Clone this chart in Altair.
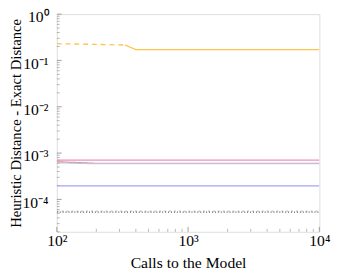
import altair as alt
import pandas as pd

# ---- data ----
yellow_dash_calls = [100, 200, 330]
yellow_dash_err = [0.23, 0.222, 0.215]
yellow_calls = [330, 400, 10000]
yellow_err = [0.215, 0.172, 0.172]
pink_calls = [100, 10000]
pink_err = [7.05e-4, 7.05e-4]
salmon_calls = [100, 200, 10000]
salmon_err = [6.5e-4, 6.0e-4, 6.0e-4]
lightblue_calls = [100, 200, 10000]
lightblue_err = [6.2e-4, 5.9e-4, 5.9e-4]
lavender_calls = [100, 10000]
lavender_err = [1.97e-4, 1.97e-4]
faint_calls = [100, 10000]
faint_err = [5.6e-5, 5.6e-5]
dotted_calls = [100, 10000]
dotted_err = [5.3e-5, 5.3e-5]

series_names = ["yellow_dash", "yellow", "pink", "salmon", "lightblue", "lavender", "faint", "dotted"]
series_colors = ["#ffc24a", "#ffc24a", "#ef8fc0", "#e0906e", "#b8c4e8", "#a5a5f0", "#c4c4c4", "#555555"]
series_dashes = [[5, 4], [1, 0], [1, 0], [1, 0], [1, 0], [1, 0], [2, 3], [1, 2]]

x_major = [100, 1000, 10000]
x_minor = [200, 300, 400, 500, 600, 700, 800, 900,
           2000, 3000, 4000, 5000, 6000, 7000, 8000, 9000]
y_major = [1e-4, 1e-3, 1e-2, 1e-1, 1]
y_minor = [m * 10.0 ** e for e in range(-5, 0) for m in range(2, 10) if m * 10.0 ** e >= 2e-5]

y_domain = [2e-5, 1]
x_domain = [100, 10000]

# ---- build table ----
rows = []
for name, cx, cy in [
    ("yellow_dash", yellow_dash_calls, yellow_dash_err),
    ("yellow", yellow_calls, yellow_err),
    ("pink", pink_calls, pink_err),
    ("salmon", salmon_calls, salmon_err),
    ("lightblue", lightblue_calls, lightblue_err),
    ("lavender", lavender_calls, lavender_err),
    ("faint", faint_calls, faint_err),
    ("dotted", dotted_calls, dotted_err),
]:
    for i, (a, b) in enumerate(zip(cx, cy)):
        rows.append({"series": name, "calls": a, "err": b, "order": i})
df = pd.DataFrame(rows)

W, H = 269, 223
FONT = "Liberation Serif"

x_labels = "datum.value < 500 ? '10²' : datum.value < 5000 ? '10³' : '10⁴'"
y_labels = ("datum.value > 0.5 ? '10⁰' : datum.value > 0.05 ? '10⁻¹' : "
            "datum.value > 0.005 ? '10⁻²' : datum.value > 0.0005 ? '10⁻³' : '10⁻⁴'")

xscale = alt.Scale(type="log", domain=x_domain, nice=False)
yscale = alt.Scale(type="log", domain=y_domain, nice=False)

lines = alt.Chart(df).mark_line(strokeWidth=1.3, clip=True).encode(
    x=alt.X("calls:Q", scale=xscale,
            axis=alt.Axis(values=x_major, labelExpr=x_labels, ticks=False, domain=False,
                          grid=False, title="Calls to the Model", labelFontSize=16,
                          titleFontSize=16, labelFont=FONT, titleFont=FONT,
                          labelColor="#000", titleColor="#000", titleFontWeight="normal",
                          labelFlush=False, labelPadding=1, titlePadding=7)),
    y=alt.Y("err:Q", scale=yscale,
            axis=alt.Axis(values=y_major, labelExpr=y_labels, ticks=False, domain=False,
                          grid=False, title="Heuristic Distance - Exact Distance",
                          labelFontSize=16, titleFontSize=15, labelFont=FONT, titleFont=FONT,
                          labelColor="#000", titleColor="#000", titleFontWeight="normal",
                          labelFlush=False, labelOffset=3, labelPadding=9,
                          titleX=-49, titleY=H / 2, titleAngle=270,
                          titleBaseline="top", titleAlign="center")),
    color=alt.Color("series:N", scale=alt.Scale(domain=series_names, range=series_colors), legend=None),
    strokeDash=alt.StrokeDash("series:N", scale=alt.Scale(domain=series_names, range=series_dashes), legend=None),
    detail="series:N",
    order="order:Q",
)

ymaj_df = pd.DataFrame({"v": y_major})
ymin_df = pd.DataFrame({"v": y_minor})
xmaj_df = pd.DataFrame({"v": x_major})
xmin_df = pd.DataFrame({"v": x_minor})

tick_color = "#888888"
y_maj_ticks = alt.Chart(ymaj_df).mark_rule(color=tick_color, strokeWidth=0.8).encode(
    y=alt.Y("v:Q", scale=yscale), x=alt.value(0), x2=alt.value(5))
y_min_ticks = alt.Chart(ymin_df).mark_rule(color=tick_color, strokeWidth=0.6).encode(
    y=alt.Y("v:Q", scale=yscale), x=alt.value(0), x2=alt.value(3))
x_maj_ticks = alt.Chart(xmaj_df).mark_rule(color=tick_color, strokeWidth=0.8).encode(
    x=alt.X("v:Q", scale=xscale), y=alt.value(H), y2=alt.value(H - 5))
x_min_ticks = alt.Chart(xmin_df).mark_rule(color=tick_color, strokeWidth=0.6).encode(
    x=alt.X("v:Q", scale=xscale), y=alt.value(H), y2=alt.value(H - 3))

chart = alt.layer(y_min_ticks, y_maj_ticks, x_min_ticks, x_maj_ticks, lines).properties(
    width=W, height=H,
    autosize=alt.AutoSizeParams(type="none"),
    padding={"left": 50, "top": 3, "right": 15, "bottom": 41},
).configure_view(stroke="#333333", strokeWidth=1.2).configure(background="white")

chart.save("out.html", embed_options={"renderer": "svg", "actions": False})
